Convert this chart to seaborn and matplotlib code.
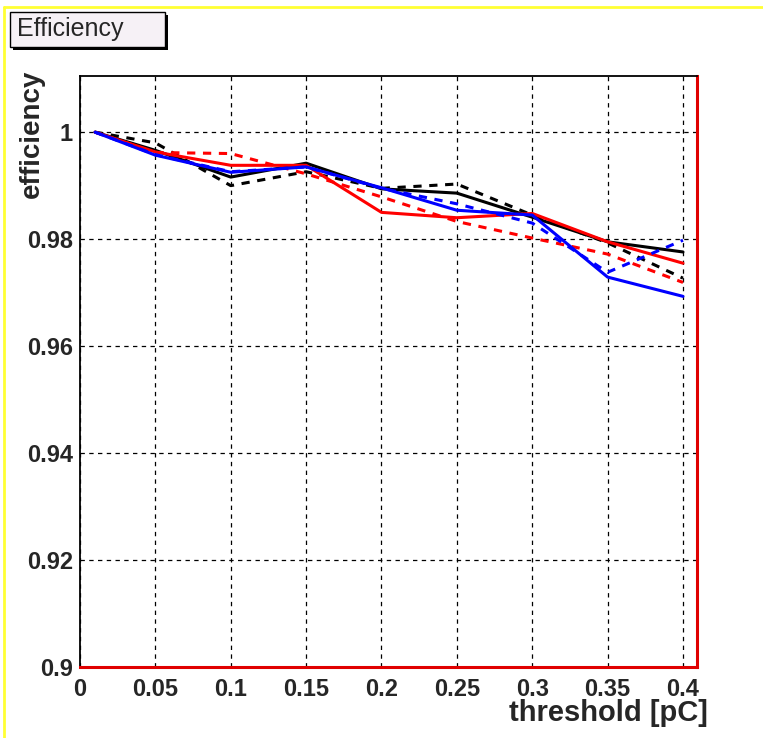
import numpy as np
import pandas as pd
import matplotlib
matplotlib.use("Agg")
import matplotlib.pyplot as plt
from matplotlib.patches import Rectangle
from matplotlib.lines import Line2D
from matplotlib.ticker import MultipleLocator, FuncFormatter
from matplotlib import font_manager
import seaborn as sns

# valores
thresholds = [0.01, 0.05, 0.1, 0.15, 0.2, 0.25, 0.3, 0.35, 0.4]
black_solid = [1.0, 0.9966, 0.9916, 0.9942, 0.9894, 0.9886, 0.9841, 0.9795, 0.9776]
black_dashed = [1.0, 0.9980, 0.9900, 0.9926, 0.9895, 0.9903, 0.9845, 0.9793, 0.9727]
red_solid = [1.0, 0.9963, 0.9938, 0.9938, 0.9850, 0.9840, 0.9848, 0.9795, 0.9755]
red_dashed = [1.0, 0.9962, 0.9960, 0.9922, 0.9879, 0.9833, 0.9802, 0.9772, 0.9719]
blue_solid = [1.0, 0.9957, 0.9925, 0.9935, 0.9896, 0.9854, 0.9845, 0.9729, 0.9693]
blue_dashed = [1.0, 0.9958, 0.9926, 0.9935, 0.9895, 0.9866, 0.9830, 0.9738, 0.9798]

series = [
    ("black", "solid", black_solid),
    ("black", "dashed", black_dashed),
    ("red", "dashed", red_dashed),
    ("red", "solid", red_solid),
    ("blue", "dashed", blue_dashed),
    ("blue", "solid", blue_solid),
]

rows = []
for cor, estilo, vals in series:
    for x, y in zip(thresholds, vals):
        rows.append({"threshold": x, "efficiency": y, "cor": cor, "estilo": estilo,
                     "serie": cor + "_" + estilo})
df = pd.DataFrame(rows)

sns.set_style("white")
plt.rcParams["font.family"] = ["Liberation Sans", "DejaVu Sans"]

# fonte estreita para os eixos, se existir
nomes = {f.name for f in font_manager.fontManager.ttflist}
estreita = "Liberation Sans Narrow" if "Liberation Sans Narrow" in nomes else "Liberation Sans"
print("fonte:", estreita)
fs_tick = 19 if estreita != "Liberation Sans" else 17

W, H = 763, 738
fig = plt.figure(figsize=(W / 100, H / 100), dpi=100)
L, R, T, B = 80, 697, 76, 667
ax = fig.add_axes([L / W, 1 - B / H, (R - L) / W, (B - T) / H])

cores = {"black": "#000000", "red": "#ff0000", "blue": "#0000ff"}
for cor, estilo, vals in series:
    sub = df[df["serie"] == cor + "_" + estilo]
    sns.lineplot(data=sub, x="threshold", y="efficiency", ax=ax, color=cores[cor],
                 linewidth=2.2, legend=False, errorbar=None, sort=False,
                 linestyle="-" if estilo == "solid" else (0, (2.7, 2.5)))

ax.set_xlim(0, 0.4093)
ax.set_ylim(0.9, 1.0105)

ax.xaxis.set_major_locator(MultipleLocator(0.05))
ax.xaxis.set_minor_locator(MultipleLocator(0.025))
ax.yaxis.set_major_locator(MultipleLocator(0.02))
ax.yaxis.set_minor_locator(MultipleLocator(0.005))
fmt = FuncFormatter(lambda v, p: f"{round(v, 4):g}")
ax.xaxis.set_major_formatter(fmt)
ax.yaxis.set_major_formatter(fmt)

ax.tick_params(which="both", direction="in", top=False, right=False,
               color="black", width=1.1, labelsize=fs_tick)
ax.tick_params(which="major", length=13)
ax.tick_params(which="minor", length=6.5)
ax.tick_params(axis="x", which="major", pad=8)
ax.tick_params(axis="y", which="major", pad=5)
for lab in ax.get_xticklabels() + ax.get_yticklabels():
    lab.set_fontweight("bold")
    lab.set_family(estreita)

ax.grid(True, which="major", color="black", linestyle=(0, (3.5, 3.5)), linewidth=0.9)

for lado in ["left", "top"]:
    ax.spines[lado].set_color("black")
    ax.spines[lado].set_linewidth(1.3)
for lado in ["right", "bottom"]:
    ax.spines[lado].set_color("#e00000")
    ax.spines[lado].set_linewidth(2.2)

ax.set_xlabel("threshold [pC]", fontsize=fs_tick + 4, fontweight="bold", ha="right",
              va="center", family=estreita)
ax.xaxis.set_label_coords((708 - L) / (R - L), (B - 713) / (B - T))
ax.set_ylabel("efficiency", fontsize=fs_tick + 3, fontweight="bold", ha="center", va="top",
              rotation=90, rotation_mode="default", family=estreita)
ax.yaxis.set_label_coords((32 - L) / (R - L), (B - 70) / (B - T))

# moldura amarela do canvas
fig.add_artist(Line2D([4 / W, 1], [1 - 7 / H, 1 - 7 / H], color="#ffff33", linewidth=2))
fig.add_artist(Line2D([4 / W, 4 / W], [0, 1 - 7 / H], color="#ffff33", linewidth=2))

# caixa do titulo com sombra
fig.add_artist(Rectangle((13 / W, 1 - 50 / H), 155 / W, 35 / H, facecolor="black",
                         edgecolor="none"))
fig.add_artist(Rectangle((10 / W, 1 - 47 / H), 155 / W, 35 / H, facecolor="#f6f1f6",
                         edgecolor="black", linewidth=1))
fig.text(17 / W, 1 - 29 / H, "Efficiency", fontsize=18, ha="left", va="center")

fig.savefig("out.png", dpi=100)
